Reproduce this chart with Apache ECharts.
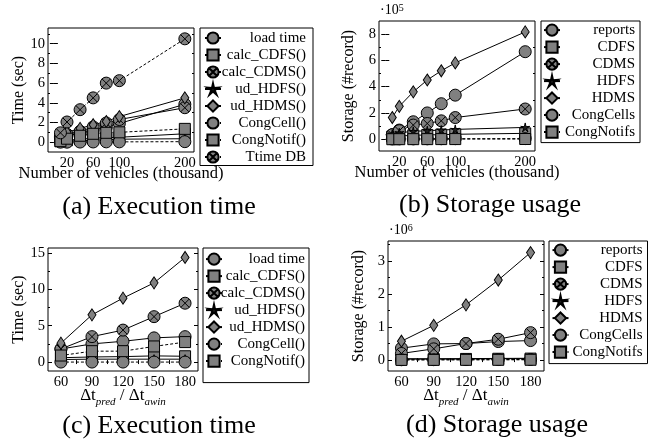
<!DOCTYPE html>
<html><head><meta charset="utf-8">
<script src="https://cdn.jsdelivr.net/npm/echarts@6/dist/echarts.min.js"></script>
<style>html,body{margin:0;padding:0;background:#fff}#c{width:654px;height:442px}</style>
</head><body><div id="c"></div><script>
const FONT = 'Liberation Serif';
// x values
const vehicles = [10, 20, 40, 60, 80, 100, 200];
const deltas = [60, 90, 120, 150, 180];
// tick labels / tick positions
const vehTicks = [20, 60, 100, 200];
const deltaTicks = [60, 90, 120, 150, 180];
const deltaMinor = [75, 105, 135, 165];
const timeTicksA = [0, 2, 4, 6, 8, 10];
const timeMinorA = [1, 3, 5, 7, 9, 11];
const storTicksB = [0, 200000, 400000, 600000, 800000];
const storMinorB = [100000, 300000, 500000, 700000];
const timeTicksC = [0, 5, 10, 15];
const timeMinorC = [2.5, 7.5, 12.5];
const storTicksD = [0, 1000000, 2000000, 3000000];
const storMinorD = [500000, 1500000, 2500000, 3500000];
// (a) execution time (sec) vs vehicles
const loadTimeA  = [0.45, 0.65, 0.9, 1.2, 1.55, 1.9, 3.85];
const calcCDFSA  = [0.1, 0.2, 0.3, 0.4, 0.45, 0.5, 0.85];
const calcCDMSA  = [0.6, 0.8, 1.1, 1.55, 1.95, 2.3, 3.5];
const udHDFSA    = [0.05, 0.1, 0.15, 0.2, 0.25, 0.3, 0.35];
const udHDMSA    = [0.8, 1.0, 1.4, 1.77, 2.1, 2.6, 4.5];
const congCellA  = [0.0, 0.0, 0.01, 0.02, 0.03, 0.03, 0.05];
const congNotifA = [0.1, 0.35, 0.65, 0.85, 0.95, 1.0, 1.35];
const ttimeDBA   = [0.95, 2.05, 3.3, 4.5, 6.0, 6.25, 10.5];
// (b) storage (#record) vs vehicles
const reportsB    = [35000, 70000, 133000, 200000, 270000, 335000, 665000];
const cdfsB       = [20000, 25000, 30000, 33000, 35000, 38000, 45000];
const cdmsB       = [35000, 65000, 108000, 120000, 140000, 165000, 230000];
const hdfsB       = [40000, 50000, 60000, 65000, 70000, 75000, 90000];
const hdmsB       = [165000, 250000, 360000, 450000, 520000, 580000, 815000];
const congCellsB  = [2000, 2500, 3000, 3500, 4000, 4500, 5000];
const congNotifsB = [500, 700, 900, 1100, 1300, 1500, 2000];
// (c) execution time (sec) vs delta t
const loadTimeC  = [1.8, 2.5, 2.86, 3.33, 3.5];
const calcCDFSC  = [0.6, 0.7, 0.75, 0.85, 0.8];
const calcCDMSC  = [1.8, 3.5, 4.4, 6.25, 8.1];
const udHDFSC    = [0.35, 0.4, 0.4, 0.4, 0.4];
const udHDMSC    = [2.6, 6.5, 8.8, 10.9, 14.4];
const congCellC  = [0.0, 0.0, 0.0, 0.0, 0.0];
const congNotifC = [0.9, 1.5, 1.5, 2.15, 2.75];
// (d) storage (#record) vs delta t
const reportsD    = [360000, 490000, 500000, 560000, 590000];
const cdfsD       = [30000, 30000, 35000, 40000, 45000];
const cdmsD       = [200000, 340000, 500000, 630000, 830000];
const hdfsD       = [40000, 40000, 45000, 50000, 55000];
const hdmsD       = [570000, 1050000, 1670000, 2420000, 3250000];
const congCellsD  = [10000, 12000, 14000, 16000, 18000];
const congNotifsD = [5000, 6000, 7000, 8000, 9000];

const namesTime = ['load time', 'calc_CDFS()', 'calc_CDMS()', 'ud_HDFS()', 'ud_HDMS()', 'CongCell()', 'CongNotif()', 'Ttime DB'];
const namesStor = ['reports', 'CDFS', 'CDMS', 'HDFS', 'HDMS', 'CongCells', 'CongNotifs'];

const OTIMES = 'path://M0,-10A10,10,0,1,1,0,10A10,10,0,1,1,0,-10ZM-7.07,-7.07L7.07,7.07M7.07,-7.07L-7.07,7.07';
const STAR = 'path://M0,-10L1.76,-2.43L9.51,-3.09L2.85,0.93L5.88,8.09L0,3L-5.88,8.09L-2.85,0.93L-9.51,-3.09L-1.76,-2.43Z';
const SYM = {
  circle: {symbol: 'circle', size: 12},
  square: {symbol: 'rect', size: 11},
  otimes: {symbol: OTIMES, size: 12},
  star: {symbol: STAR, size: 9, fill: '#222'},
  diamond: {symbol: 'diamond', size: [8, 12]}
};
const styleList = [
  ['circle', false], ['square', false], ['otimes', false], ['star', false],
  ['diamond', false], ['circle', true], ['square', true], ['otimes', true]
];

function mk(name, xs, ys, gi, k) {
  const [symKey, dashed] = styleList[k];
  const s = SYM[symKey];
  return {
    type: 'line', name, xAxisIndex: gi, yAxisIndex: gi,
    data: xs.map((x, i) => [x, ys[i]]),
    symbol: s.symbol, symbolSize: s.size, showAllSymbol: true,
    itemStyle: {color: s.fill || '#808080', borderColor: '#000', borderWidth: 1},
    lineStyle: {color: '#000', width: 1, type: dashed ? [3, 2] : 'solid'},
    emphasis: {disabled: true}, animation: false, clip: false
  };
}

const series = [];
[loadTimeA, calcCDFSA, calcCDMSA, udHDFSA, udHDMSA, congCellA, congNotifA, ttimeDBA]
  .forEach((d, k) => series.push(mk(namesTime[k], vehicles, d, 0, k)));
[reportsB, cdfsB, cdmsB, hdfsB, hdmsB, congCellsB, congNotifsB]
  .forEach((d, k) => series.push(mk(namesStor[k], vehicles, d, 1, k)));
[loadTimeC, calcCDFSC, calcCDMSC, udHDFSC, udHDMSC, congCellC, congNotifC]
  .forEach((d, k) => series.push(mk(namesTime[k], deltas, d, 2, k)));
[reportsD, cdfsD, cdmsD, hdfsD, hdmsD, congCellsD, congNotifsD]
  .forEach((d, k) => series.push(mk(namesStor[k], deltas, d, 3, k)));

const txt = {fontFamily: FONT, color: '#000'};
const deltaName = '{n|Δt}{s|pred}{n| / Δt}{s|awin}';
const deltaRich = {
  n: {fontFamily: FONT, fontSize: 17, color: '#000', lineHeight: 20, verticalAlign: 'middle'},
  s: {fontFamily: FONT, fontSize: 11, fontStyle: 'italic', color: '#000', lineHeight: 20, verticalAlign: 'bottom', padding: [0, 0, -2, 0]}
};

// main axes (labels + major ticks), mirrored axes (ticks only), minor-tick axes
function xAx(gi, min, max, ticks, opt) {
  opt = opt || {};
  const a = {
    type: 'value', gridIndex: gi, min, max, position: opt.top ? 'top' : 'bottom',
    axisLine: {show: false},
    axisTick: {show: true, inside: true, length: opt.minor ? 2 : 4, lineStyle: {color: '#000'}, customValues: ticks},
    axisLabel: {show: !!opt.label, ...txt, fontSize: 14.5, margin: 4, customValues: ticks},
    splitLine: {show: false}
  };
  if (opt.name) {
    a.name = opt.name; a.nameLocation = 'middle'; a.nameGap = opt.gap; a.nameMoveOverlap = false;
    a.nameTextStyle = {...txt, fontSize: 16.5, rich: deltaRich};
  }
  return a;
}
function yAx(gi, min, max, ticks, opt) {
  opt = opt || {};
  const a = {
    type: 'value', gridIndex: gi, min, max, position: opt.right ? 'right' : 'left',
    axisLine: {show: false},
    axisTick: {show: true, inside: true, length: opt.minor ? 2 : 4, lineStyle: {color: '#000'}, customValues: ticks},
    axisLabel: {show: !!opt.fmt, ...txt, fontSize: 14.5, margin: 3, customValues: ticks, formatter: opt.fmt},
    splitLine: {show: false}
  };
  if (opt.name) {
    a.name = opt.name; a.nameLocation = 'middle'; a.nameGap = opt.gap; a.nameRotate = 90; a.nameMoveOverlap = false;
    a.nameTextStyle = {...txt, fontSize: 16};
  }
  return a;
}

const f1 = v => String(v);
const f5 = v => String(Math.round(v / 1e5));
const f6 = v => String(Math.round(v / 1e6));
const vehName = 'Number of vehicles (thousand)';

const xAxes = [
  xAx(0, -9, 214, vehTicks, {label: true, name: vehName, gap: 13}),
  xAx(1, -9, 214, vehTicks, {label: true, name: vehName, gap: 13}),
  xAx(2, 47.5, 192.5, deltaTicks, {label: true, name: deltaName, gap: 15}),
  xAx(3, 47.5, 192.5, deltaTicks, {label: true, name: deltaName, gap: 15}),
  xAx(0, -9, 214, vehTicks, {top: true}),
  xAx(1, -9, 214, vehTicks, {top: true}),
  xAx(2, 47.5, 192.5, deltaTicks, {top: true}),
  xAx(3, 47.5, 192.5, deltaTicks, {top: true}),
  xAx(2, 47.5, 192.5, deltaMinor, {minor: true}),
  xAx(3, 47.5, 192.5, deltaMinor, {minor: true}),
  xAx(2, 47.5, 192.5, deltaMinor, {minor: true, top: true}),
  xAx(3, 47.5, 192.5, deltaMinor, {minor: true, top: true})
];
const yLim = [[-1, 11.6], [-89000, 898000], [-1.23, 15.7], [-330000, 3600000]];
const yMaj = [timeTicksA, storTicksB, timeTicksC, storTicksD];
const yMin = [timeMinorA, storMinorB, timeMinorC, storMinorD];
const yFmt = [f1, f5, f1, f6];
const yNames = ['Time (sec)', 'Storage (#record)', 'Time (sec)', 'Storage (#record)'];
const yGaps = [21, 22, 21, 21];
const yAxes = [];
for (let g = 0; g < 4; g++) yAxes.push(yAx(g, yLim[g][0], yLim[g][1], yMaj[g], {fmt: yFmt[g], name: yNames[g], gap: yGaps[g]}));
for (let g = 0; g < 4; g++) yAxes.push(yAx(g, yLim[g][0], yLim[g][1], yMaj[g], {right: true}));
for (let g = 0; g < 4; g++) yAxes.push(yAx(g, yLim[g][0], yLim[g][1], yMin[g], {minor: true}));
for (let g = 0; g < 4; g++) yAxes.push(yAx(g, yLim[g][0], yLim[g][1], yMin[g], {minor: true, right: true}));

function leg(left, top, names, w, padding) {
  return {
    orient: 'vertical', left, top, data: names, itemWidth: 16, itemHeight: 14, itemGap: 2,
    padding, borderColor: '#000', borderWidth: 1, backgroundColor: '#fff', borderRadius: 0,
    selectedMode: false, formatter: '{r|{name}}',
    textStyle: {...txt, fontSize: 15, rich: {r: {fontFamily: FONT, fontSize: 15, color: '#000', width: w, align: 'right', lineHeight: 14}}}
  };
}

const gridBase = {show: true, borderColor: '#000', borderWidth: 1, backgroundColor: '#fff', containLabel: false};
const option = {
  backgroundColor: '#fff',
  animation: false,
  grid: [
    {...gridBase, left: 48, top: 28, width: 146, height: 124},
    {...gridBase, left: 379, top: 21, width: 156, height: 130},
    {...gridBase, left: 48, top: 248, width: 150, height: 123},
    {...gridBase, left: 388, top: 241, width: 156, height: 130}
  ],
  xAxis: xAxes, yAxis: yAxes,
  legend: [
    leg(200, 28, namesTime, 80, [2.5, 7, 1, 4]),
    leg(541, 21, namesStor, 70, [1.6, 5, 3, 2]),
    leg(203, 248, namesTime.slice(0, 7), 78, [3.6, 4, 14, 2]),
    leg(549, 241, namesStor, 69, [1.6, 5, 4, 2.5])
  ],
  graphic: [
    {type: 'text', left: 380, top: 3, style: {text: '{a|·10}{b|5}', rich: {a: {fontFamily: FONT, fontSize: 14, fill: '#000'}, b: {fontFamily: FONT, fontSize: 10, fill: '#000', verticalAlign: 'top'}}}},
    {type: 'text', left: 389, top: 223, style: {text: '{a|·10}{b|6}', rich: {a: {fontFamily: FONT, fontSize: 14, fill: '#000'}, b: {fontFamily: FONT, fontSize: 10, fill: '#000', verticalAlign: 'top'}}}},
    {type: 'text', x: 159, y: 207, style: {text: '(a) Execution time', font: '26px "Liberation Serif"', fill: '#000', align: 'center', verticalAlign: 'middle'}},
    {type: 'text', x: 490, y: 205, style: {text: '(b) Storage usage', font: '26px "Liberation Serif"', fill: '#000', align: 'center', verticalAlign: 'middle'}},
    {type: 'text', x: 159, y: 426, style: {text: '(c) Execution time', font: '26px "Liberation Serif"', fill: '#000', align: 'center', verticalAlign: 'middle'}},
    {type: 'text', x: 497, y: 425, style: {text: '(d) Storage usage', font: '26px "Liberation Serif"', fill: '#000', align: 'center', verticalAlign: 'middle'}}
  ],
  series
};
const chart = echarts.init(document.getElementById('c'), null, {renderer: 'canvas'});
chart.setOption(option);
</script></body></html>
